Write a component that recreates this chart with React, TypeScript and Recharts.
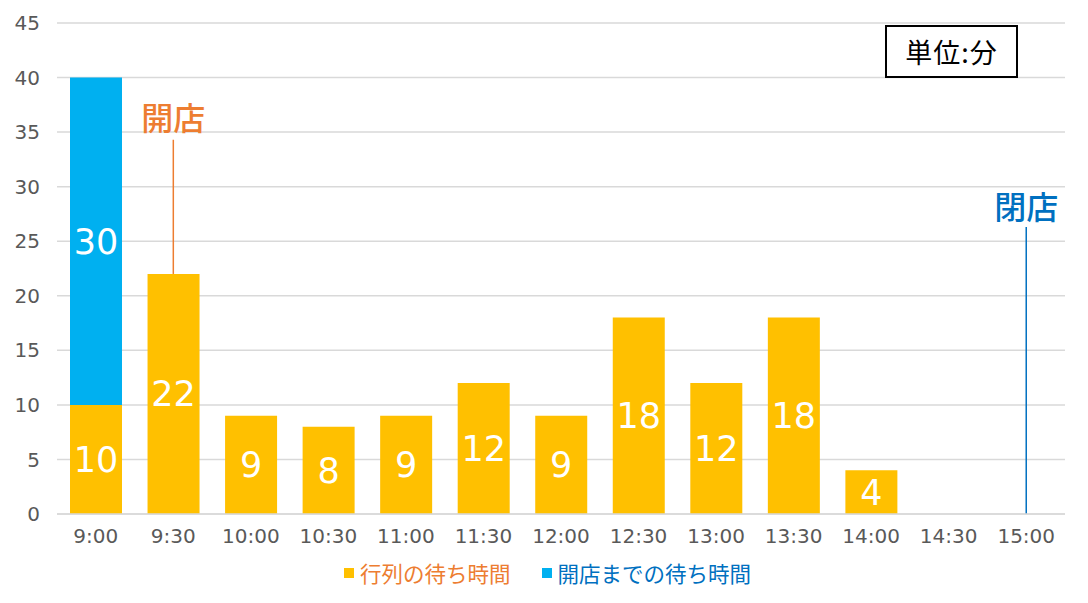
import React from 'react';
import { BarChart, Bar, XAxis, YAxis, CartesianGrid, LabelList, ReferenceLine, Legend } from 'recharts';

const times = ['9:00', '9:30', '10:00', '10:30', '11:00', '11:30', '12:00', '12:30', '13:00', '13:30', '14:00', '14:30', '15:00'];
const queueWait = [10, 22, 9, 8, 9, 12, 9, 18, 12, 18, 4, 0, 0];
const preOpenWait: (number | null)[] = [30, null, null, null, null, null, null, null, null, null, null, null, null];
const yTicks = [0, 5, 10, 15, 20, 25, 30, 35, 40, 45];

// annotation anchors (category, from value, to value, label value)
const openMark = { x: '9:30', from: 22, to: 34.3, label: 36.2 };
const closeMark = { x: '15:00', from: 0, to: 26.3, label: 28.1 };

const ORANGE = '#FFC000';
const BLUE = '#00B0F0';
const FONT = '"Noto Sans CJK JP", "Noto Sans", sans-serif';
const NUM_FONT = '"DejaVu Sans", "Noto Sans CJK JP", sans-serif';

const data = times.map((t, i) => ({ time: t, queue: queueWait[i], preOpen: preOpenWait[i] }));

const legendItems = [
  { label: '行列の待ち時間', box: ORANGE, text: '#ED7D31' },
  { label: '開店までの待ち時間', box: BLUE, text: '#0070C0' },
];

const renderLegend = () => (
  <div style={{ display: 'flex', justifyContent: 'center', gap: 31, fontFamily: FONT, fontSize: 21.5, marginLeft: 30, marginTop: -4 }}>
    {legendItems.map((it) => (
      <div key={it.label} style={{ display: 'flex', alignItems: 'center', color: it.text }}>
        <span style={{ width: 10, height: 10, background: it.box, display: 'inline-block', marginRight: 6 }} />
        {it.label}
      </div>
    ))}
  </div>
);

const App: React.FC = () => {
  return (
    <div style={{ position: 'absolute', left: 0, top: 0, width: 1088, height: 603, background: '#fff', fontFamily: FONT }}>
      <BarChart width={1088} height={603} data={data} margin={{ top: 23, right: 23, bottom: 0, left: 0 }} barSize={52}>
        <CartesianGrid vertical={false} stroke="#D9D9D9" strokeWidth={1.5} />
        <XAxis
          dataKey="time"
          axisLine={{ stroke: '#D9D9D9', strokeWidth: 1.5 }}
          tickLine={false}
          tickMargin={9}
          height={47}
          tick={{ fill: '#595959', fontSize: 20, fontFamily: NUM_FONT }}
          interval={0}
        />
        <YAxis
          width={57}
          domain={[0, 45]}
          ticks={yTicks}
          axisLine={false}
          tickLine={false}
          tickSize={0}
          tickMargin={17}
          tick={{ fill: '#595959', fontSize: 20, fontFamily: NUM_FONT }}
        />
        <Legend verticalAlign="bottom" height={42} content={renderLegend} />
        <Bar dataKey="queue" stackId="a" fill={ORANGE} isAnimationActive={false}>
          <LabelList dataKey="queue" position="center" fill="#fff" fontSize={35} fontFamily={NUM_FONT} />
        </Bar>
        <Bar dataKey="preOpen" stackId="a" fill={BLUE} isAnimationActive={false}>
          <LabelList dataKey="preOpen" position="center" fill="#fff" fontSize={35} fontFamily={NUM_FONT} />
        </Bar>
        <ReferenceLine
          segment={[{ x: openMark.x, y: openMark.from }, { x: openMark.x, y: openMark.to }]}
          stroke="#ED7D31"
          strokeWidth={1.5}
        />
        <ReferenceLine
          segment={[{ x: openMark.x, y: openMark.label }, { x: openMark.x, y: openMark.label }]}
          stroke="none"
          label={{ value: '開店', fill: '#ED7D31', fontSize: 32, fontWeight: 500, fontFamily: FONT, position: 'center' }}
        />
        <ReferenceLine
          segment={[{ x: closeMark.x, y: closeMark.from }, { x: closeMark.x, y: closeMark.to }]}
          stroke="#0070C0"
          strokeWidth={1.5}
        />
        <ReferenceLine
          segment={[{ x: closeMark.x, y: closeMark.label }, { x: closeMark.x, y: closeMark.label }]}
          stroke="none"
          label={{ value: '閉店', fill: '#0070C0', fontSize: 32, fontWeight: 500, fontFamily: FONT, position: 'center' }}
        />
      </BarChart>
      <div
        style={{
          position: 'absolute',
          left: 885,
          top: 25,
          width: 129,
          height: 49,
          border: '2px solid #000',
          background: '#fff',
          display: 'flex',
          alignItems: 'center',
          justifyContent: 'center',
          fontSize: 27,
          letterSpacing: 1,
          color: '#000',
          fontFamily: FONT,
        }}
      >
        単位:分
      </div>
    </div>
  );
};

export default App;
